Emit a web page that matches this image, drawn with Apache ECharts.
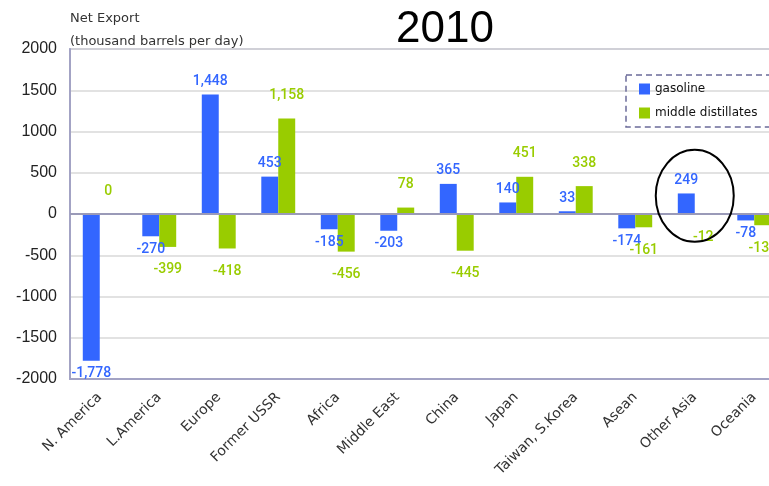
<!DOCTYPE html>
<html>
<head>
<meta charset="utf-8">
<script src="https://cdn.jsdelivr.net/npm/echarts@6/dist/echarts.min.js"></script>
<style>
  html, body { margin: 0; padding: 0; background: #fff; overflow: hidden; }
  #main { width: 769px; height: 486px; }
</style>
</head>
<body>
<div id="main"></div>
<script>
  // regions on the x axis
  const regions = ['N. America', 'L.America', 'Europe', 'Former USSR', 'Africa', 'Middle East',
    'China', 'Japan', 'Taiwan, S.Korea', 'Asean', 'Other Asia', 'Oceania'];
  // net export, thousand barrels per day
  const gasoline = [-1778, -270, 1448, 453, -185, -203, 365, 140, 33, -174, 249, -78];
  const middleDistillates = [0, -399, -418, 1158, -456, 78, -445, 451, 338, -161, -12, -136];
  const yTicks = [-2000, 2000, 500]; // min, max, interval

  const chart = echarts.init(document.getElementById('main'));

  function fmt(v) {
    return Number(v).toLocaleString('en-US');
  }
  function withLabels(arr, dist) {
    return arr.map(function (v) {
      return { value: v, label: { position: v < 0 ? 'bottom' : 'top', distance: dist } };
    });
  }

  chart.setOption({
    color: ['#3366ff', '#99cc00'],
    title: {
      text: '2010',
      left: 440, top: 3, textAlign: 'center',
      textStyle: { fontFamily: 'Liberation Sans', fontSize: 44, fontWeight: 'normal', color: '#000' }
    },
    legend: {
      orient: 'vertical',
      left: 626, top: 75,
      icon: 'rect',
      itemWidth: 11, itemHeight: 11, itemGap: 12,
      padding: [8, 30, 8, 13],
      borderColor: '#6b6b99', borderWidth: 1.5, borderType: [6, 4],
      textStyle: { fontFamily: 'DejaVu Sans', fontSize: 12, color: '#111' },
      data: ['gasoline', 'middle distillates']
    },
    grid: {
      left: 70, top: 49, width: 714, height: 330,
      outerBoundsMode: 'none',
      show: true, borderColor: '#a3a3c4', borderWidth: 1.5
    },
    xAxis: {
      type: 'category',
      data: regions,
      axisLine: { onZero: false, lineStyle: { color: '#a3a3c4', width: 2 } },
      axisTick: { show: false },
      axisLabel: {
        rotate: 45, interval: 0, margin: 16,
        fontFamily: 'DejaVu Sans', fontSize: 14, color: '#333'
      }
    },
    yAxis: {
      type: 'value',
      min: yTicks[0], max: yTicks[1], interval: yTicks[2],
      name: 'Net Export\n(thousand barrels per day)',
      nameLocation: 'end', nameGap: -4,
      nameTextStyle: { align: 'left', fontFamily: 'DejaVu Sans', fontSize: 13, color: '#333', lineHeight: 23 },
      axisLine: { show: true, lineStyle: { color: '#a3a3c4', width: 2 } },
      axisTick: { show: false },
      axisLabel: { fontFamily: 'Liberation Sans', fontSize: 16, color: '#222', margin: 13,
        formatter: function (v) { return String(v); } },
      splitLine: { lineStyle: { color: '#d9d9d9', width: 1.5 } }
    },
    series: [
      {
        name: 'gasoline', type: 'bar',
        barGap: '0%', barCategoryGap: '43%',
        data: withLabels(gasoline, 6),
        label: {
          show: true, color: '#3366ff', fontFamily: 'Roboto', fontWeight: 500, fontSize: 14,
          formatter: function (p) { return fmt(p.value); }
        },
        markLine: {
          silent: true, symbol: 'none', label: { show: false },
          lineStyle: { color: '#9a9ab8', width: 2, type: 'solid' },
          data: [{ yAxis: 0 }]
        }
      },
      {
        name: 'middle distillates', type: 'bar',
        data: withLabels(middleDistillates, 16),
        label: {
          show: true, color: '#99cc00', fontFamily: 'Roboto', fontWeight: 500, fontSize: 14,
          formatter: function (p) { return fmt(p.value); }
        }
      }
    ]
  });

  // hand-drawn circle around "Other Asia"
  const c = chart.convertToPixel({ gridIndex: 0 }, ['Other Asia', 220]);
  chart.setOption({
    graphic: [{
      type: 'ellipse',
      shape: { cx: c[0], cy: c[1], rx: 39, ry: 46 },
      style: { fill: 'none', stroke: '#000', lineWidth: 2 },
      z: 100
    }]
  });
</script>
</body>
</html>
